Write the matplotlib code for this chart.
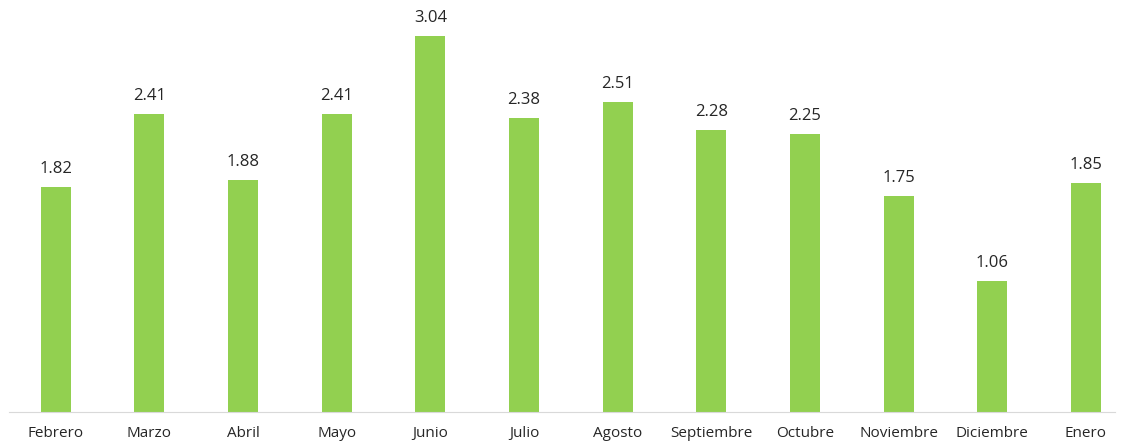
import matplotlib.pyplot as plt

months = ["Febrero", "Marzo", "Abril", "Mayo", "Junio", "Julio", "Agosto",
          "Septiembre", "Octubre", "Noviembre", "Diciembre", "Enero"]
values = [1.82, 2.41, 1.88, 2.41, 3.04, 2.38, 2.51, 2.28, 2.25, 1.75, 1.06, 1.85]

plt.rcParams["font.family"] = ["Open Sans", "DejaVu Sans"]

fig = plt.figure(figsize=(11.23, 4.41), dpi=100)
ax = fig.add_axes([9 / 1123, 29 / 441, 1106 / 1123, 408 / 441])

x = range(len(months))
bars = ax.bar(x, values, width=0.32, color="#92D050")

for b, v in zip(bars, values):
    ax.text(b.get_x() + b.get_width() / 2, v + 0.08, f"{v:.2f}",
            ha="center", va="bottom", fontsize=12, color="#262626")

ax.set_xlim(-0.5, 11.31)
ax.set_ylim(0, 3.3)
ax.set_xticks(list(x))
ax.set_xticklabels(months, fontsize=11, color="#262626")
ax.tick_params(axis="x", length=0, pad=10)
ax.set_yticks([])
for s in ["top", "right", "left"]:
    ax.spines[s].set_visible(False)
ax.spines["bottom"].set_color("#d9d9d9")

fig.savefig("out.png", dpi=100)
